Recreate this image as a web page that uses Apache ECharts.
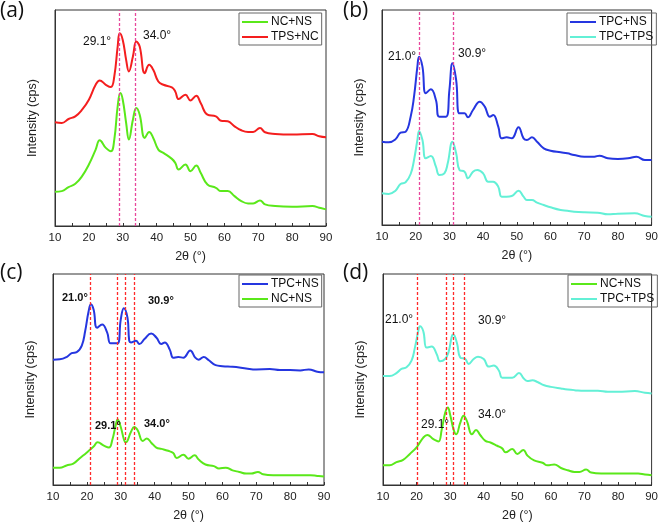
<!DOCTYPE html>
<html><head><meta charset="utf-8">
<script src="https://cdn.jsdelivr.net/npm/echarts@6/dist/echarts.min.js"></script>
<style>html,body{margin:0;padding:0;background:#fff}#c{width:661px;height:523px}</style>
</head><body><div id="c"></div>
<script>
// ---------- DATA (2θ in degrees, intensity in arbitrary offset units) ----------
const xTicks = [10,20,30,40,50,60,70,80,90];

// Panel (a)
const aNCNS_x = [10,12,14,16,18,20,22,23.2,25,26.5,27.5,28.5,29.3,30,31,31.8,33,34,35,36.5,37.8,39,40.5,42,44.5,45.5,46.5,48.5,50,51.7,53,55,57.5,59,61,63,65,67,68.5,70.5,72,75,80,86,88,90];
const aNCNS_y = [103,105,117,127,150,185,230,258,235,225,260,360,400,380,310,260,320,355,335,265,283,265,230,220,202,190,170,185,165,182,160,125,115,105,105,90,75,68,68,77,65,60,58,60,55,50];
const aTPSNC_x = [10,12,14,16,18,20,22,23.2,25,26.5,27.5,28.5,29.1,30,31,31.8,33,34,35,36.5,37.8,39,40.5,42,44.5,45.5,46.5,48.5,50,51.7,53,55,57.5,59,61,63,65,67,68.5,70.5,72,75,80,86,88,90];
const aTPSNC_y = [312,310,322,330,350,380,425,438,425,418,450,540,580,560,500,465,510,555,540,460,485,470,435,425,417,405,382,395,378,392,370,335,330,317,315,300,288,283,283,295,282,277,275,277,270,267];

// Panel (b)
const bTPCNS_x = [10,12,14,15.5,17,18.5,19.5,20.5,21,22,23,24.5,26,27,29,30,30.9,32,33,34.5,35.5,37,39,40.5,42,43,44.5,45.5,47,48.5,50.5,52,53,54.5,56,58,60,63,65,67,70,73,74.5,77,80,83,85.5,88,90];
const bTPCNS_y = [250,248,257,277,280,325,385,475,505,475,395,407,375,325,325,405,485,435,335,335,323,345,370,355,325,330,295,260,263,260,293,260,255,263,250,230,223,218,215,210,205,205,208,200,198,200,205,195,195];
const bTPCTPS_x = [10,12,14,15.5,17,18.5,19.5,20.5,21,22,23,24.5,26,27,28.5,29.5,30.9,32,33,34.5,35.5,37,38.3,40,41.5,43,44.5,45.5,47,48.5,50.5,52,53,54.5,56,58,60,63,65,67,70,74,77,80,85,88,90];
const bTPCTPS_y = [95,93,103,123,128,153,195,255,282,255,200,207,175,150,155,185,250,215,165,160,140,160,165,155,130,130,115,85,85,87,103,85,75,75,67,60,53,45,43,40,38,37,32,34,35,27,25];

// Panel (c)
const cTPCNS_x = [10,12,14,15.5,17,18.5,19.5,20.5,21.2,22,23,24.5,26,27,29,30,30.9,32,32.5,33,34.5,35.5,37,39,40.5,42,43,44.5,45.5,47,48.5,50.5,52,53,54.5,56,58,60,63,65,67,70,74,77,80,83,85.5,88,90];
const cTPCNS_y = [385,386,393,405,408,428,473,533,555,538,483,493,468,435,435,508,543,513,443,438,443,433,448,465,453,433,438,415,391,393,391,413,391,385,393,383,368,365,363,361,358,355,356,353,353,352,355,348,346];
const cNCNS_x = [10,12,14,16,18,20,22,23.2,25,26.5,27.5,28.5,29.1,30,31,31.5,33,34,35,36.5,37.7,39,40.5,42,44,45.5,46.5,48.5,50,51.8,53,55,57.5,59,61,63,65,67,68.5,70.5,72,75,80,86,88,90];
const cNCNS_y = [53,53,60,66,83,100,118,131,121,115,138,183,201,178,138,131,163,178,168,135,143,130,115,111,105,98,83,93,81,91,78,63,58,51,53,45,40,35,35,40,33,30,30,30,28,26];

// Panel (d)
const dNCNS_x = [10,12,14,16,18,20,22,23.2,25,26.5,27.5,28.5,29.3,30,31,31.8,33,34,35,36.5,37.7,39,40.5,42,44,45.5,46.5,48.5,50,51.8,53,55,57.5,59,61,63,65,67,68.5,70.5,72,75,80,86,88,90];
const dNCNS_y = [60,60,70,77,95,115,145,153,140,133,170,220,237,215,170,155,190,212,195,155,168,152,135,130,120,112,100,110,95,107,90,75,68,60,63,52,45,40,40,47,38,35,35,35,32,30];
const dTPCTPS_x = [10,12,14,15.5,17,18.5,19.5,20.5,21,22,23,24.5,26,27,28.5,29.5,30.5,30.9,32,33,34.5,35.5,37,38.3,40,41.5,43,44.5,45.5,47,48.5,50.5,52,53,54.5,56,58,60,63,65,67,70,74,77,80,85,88,90];
const dTPCTPS_y = [333,333,342,355,360,380,420,470,485,470,420,423,400,378,385,405,455,460,435,390,385,370,385,392,385,362,365,350,328,328,328,342,325,318,320,315,305,300,295,292,290,288,288,285,285,287,282,280];

// Reference lines (2θ positions as drawn) and peak annotation labels
const aLines = [29.1, 33.8];
const bLines = [21.0, 31.0];
const cLines = [20.9, 28.9, 31.4, 34.0];
const dLines = [20.3, 28.9, 30.9, 34.3];
const peakLabels = ['29.1°','34.0°','21.0°','30.9°'];

// ---------- CHART ----------
const C = {green:'#5ae81a', red:'#f41e1e', blue:'#2536e0', cyan:'#63f0d6', pink:'#e8489c', dred:'#ff2a2a'};
const pair = (xs, ys) => xs.map((x,i)=>[x, ys[i]]);
const grids = [
  {left:55, top:10, width:271, height:216},
  {left:382, top:10, width:272, height:215},
  {left:53, top:274, width:271, height:216},
  {left:383, top:274, width:270, height:215}
];
const yMax = [650,645,648,645];
const xAxes = grids.map((g,i)=>({
  type:'value', gridIndex:i, min:10, max:90, interval:10,
  name:'2θ (°)', nameLocation:'middle', nameGap:24,
  nameTextStyle:{fontFamily:'Liberation Sans', fontSize:12.5, color:'#222'},
  axisLine:{lineStyle:{color:'#333', width:1}},
  axisTick:{inside:true, length:3, lineStyle:{color:'#333'}},
  minorTick:{show:true, splitNumber:2, length:3, lineStyle:{color:'#333'}},
  axisLabel:{fontFamily:'Liberation Sans', fontSize:11.5, color:'#222', margin:6},
  splitLine:{show:false}
}));
const yAxes = grids.map((g,i)=>({
  type:'value', gridIndex:i, min:0, max:yMax[i],
  name:'Intensity (cps)', nameLocation:'middle', nameGap:16,
  nameTextStyle:{fontFamily:'Liberation Sans', fontSize:12.5, color:'#222'},
  axisLine:{show:true, lineStyle:{color:'#333', width:1}},
  axisTick:{show:false}, axisLabel:{show:false}, splitLine:{show:false}
}));
function mk(lines, color){
  return {silent:true, symbol:['none','none'], label:{show:false},
    lineStyle:{type:[3,2], color:color, width:1.3},
    data: lines.map(v=>({xAxis:v}))};
}
function ser(name, i, xs, ys, color, lines, lcolor){
  const s = {name, type:'line', xAxisIndex:i, yAxisIndex:i, data:pair(xs,ys),
    smooth:0.45, showSymbol:false, symbol:'none', lineStyle:{color, width:2}, itemStyle:{color}, z:3};
  if(lines) s.markLine = mk(lines, lcolor);
  return s;
}
const series = [
  ser('NC+NS',0,aNCNS_x,aNCNS_y,C.green,aLines,C.pink),
  ser('TPS+NC',0,aTPSNC_x,aTPSNC_y,C.red),
  ser('TPC+NS',1,bTPCNS_x,bTPCNS_y,C.blue,bLines,C.pink),
  ser('TPC+TPS',1,bTPCTPS_x,bTPCTPS_y,C.cyan),
  ser('TPC+NS',2,cTPCNS_x,cTPCNS_y,C.blue,cLines,C.dred),
  ser('NC+NS',2,cNCNS_x,cNCNS_y,C.green),
  ser('NC+NS',3,dNCNS_x,dNCNS_y,C.green,dLines,C.dred),
  ser('TPC+TPS',3,dTPCTPS_x,dTPCTPS_y,C.cyan)
];
function legend(left, top, data){
  return {left, top, orient:'vertical', data, icon:'rect', itemWidth:26, itemHeight:2, itemGap:3,
    padding:[3,3,2,3], borderColor:'#666', borderWidth:1, selectedMode:false,
    textStyle:{fontFamily:'Liberation Sans', fontSize:12, color:'#111', padding:[0,0,0,-2]}};
}
const legends = [
  legend(239,13,[{name:'NC+NS', itemStyle:{color:C.green}},{name:'TPS+NC', itemStyle:{color:C.red}}]),
  legend(567,13,[{name:'TPC+NS', itemStyle:{color:C.blue}},{name:'TPC+TPS', itemStyle:{color:C.cyan}}]),
  legend(239,275,[{name:'TPC+NS', itemStyle:{color:C.blue}},{name:'NC+NS', itemStyle:{color:C.green}}]),
  legend(568,275,[{name:'NC+NS', itemStyle:{color:C.green}},{name:'TPC+TPS', itemStyle:{color:C.cyan}}])
];
function txt(x,y,t,bold,size){
  return {type:'text', left:x, top:y, z:10, style:{text:t, fontFamily:'Liberation Sans', fontSize:size||12,
    fontWeight:bold?'bold':'normal', fill:'#111'}};
}
const graphics = [
  {type:'text', left:0, top:1, style:{text:'(a)', fontFamily:'Open Sans', fontSize:21, fill:'#111'}},
  {type:'text', left:343, top:1, style:{text:'(b)', fontFamily:'Open Sans', fontSize:21, fill:'#111'}},
  {type:'text', left:0, top:263, style:{text:'(c)', fontFamily:'Open Sans', fontSize:21, fill:'#111'}},
  {type:'text', left:343, top:263, style:{text:'(d)', fontFamily:'Open Sans', fontSize:21, fill:'#111'}},
  txt(83,36,peakLabels[0]), txt(143,30,peakLabels[1]),
  txt(388,51,peakLabels[2]), txt(458,48,peakLabels[3]),
  txt(62,292,peakLabels[2],true,11), txt(148,295,peakLabels[3],true,11),
  txt(95,420,peakLabels[0],true,11), txt(144,418,peakLabels[1],true,11),
  txt(385,314,peakLabels[2]), txt(478,315,peakLabels[3]),
  txt(421,419,peakLabels[0]), txt(478,409,peakLabels[1])
];
const chart = echarts.init(document.getElementById('c'), null, {renderer:'canvas'});
chart.setOption({
  animation:false, backgroundColor:'#fff',
  grid: grids.map(g=>Object.assign({show:true, borderColor:'#333', borderWidth:1, backgroundColor:'transparent'}, g)),
  xAxis:xAxes, yAxis:yAxes, series, legend:legends, graphic:graphics
});
</script></body></html>
